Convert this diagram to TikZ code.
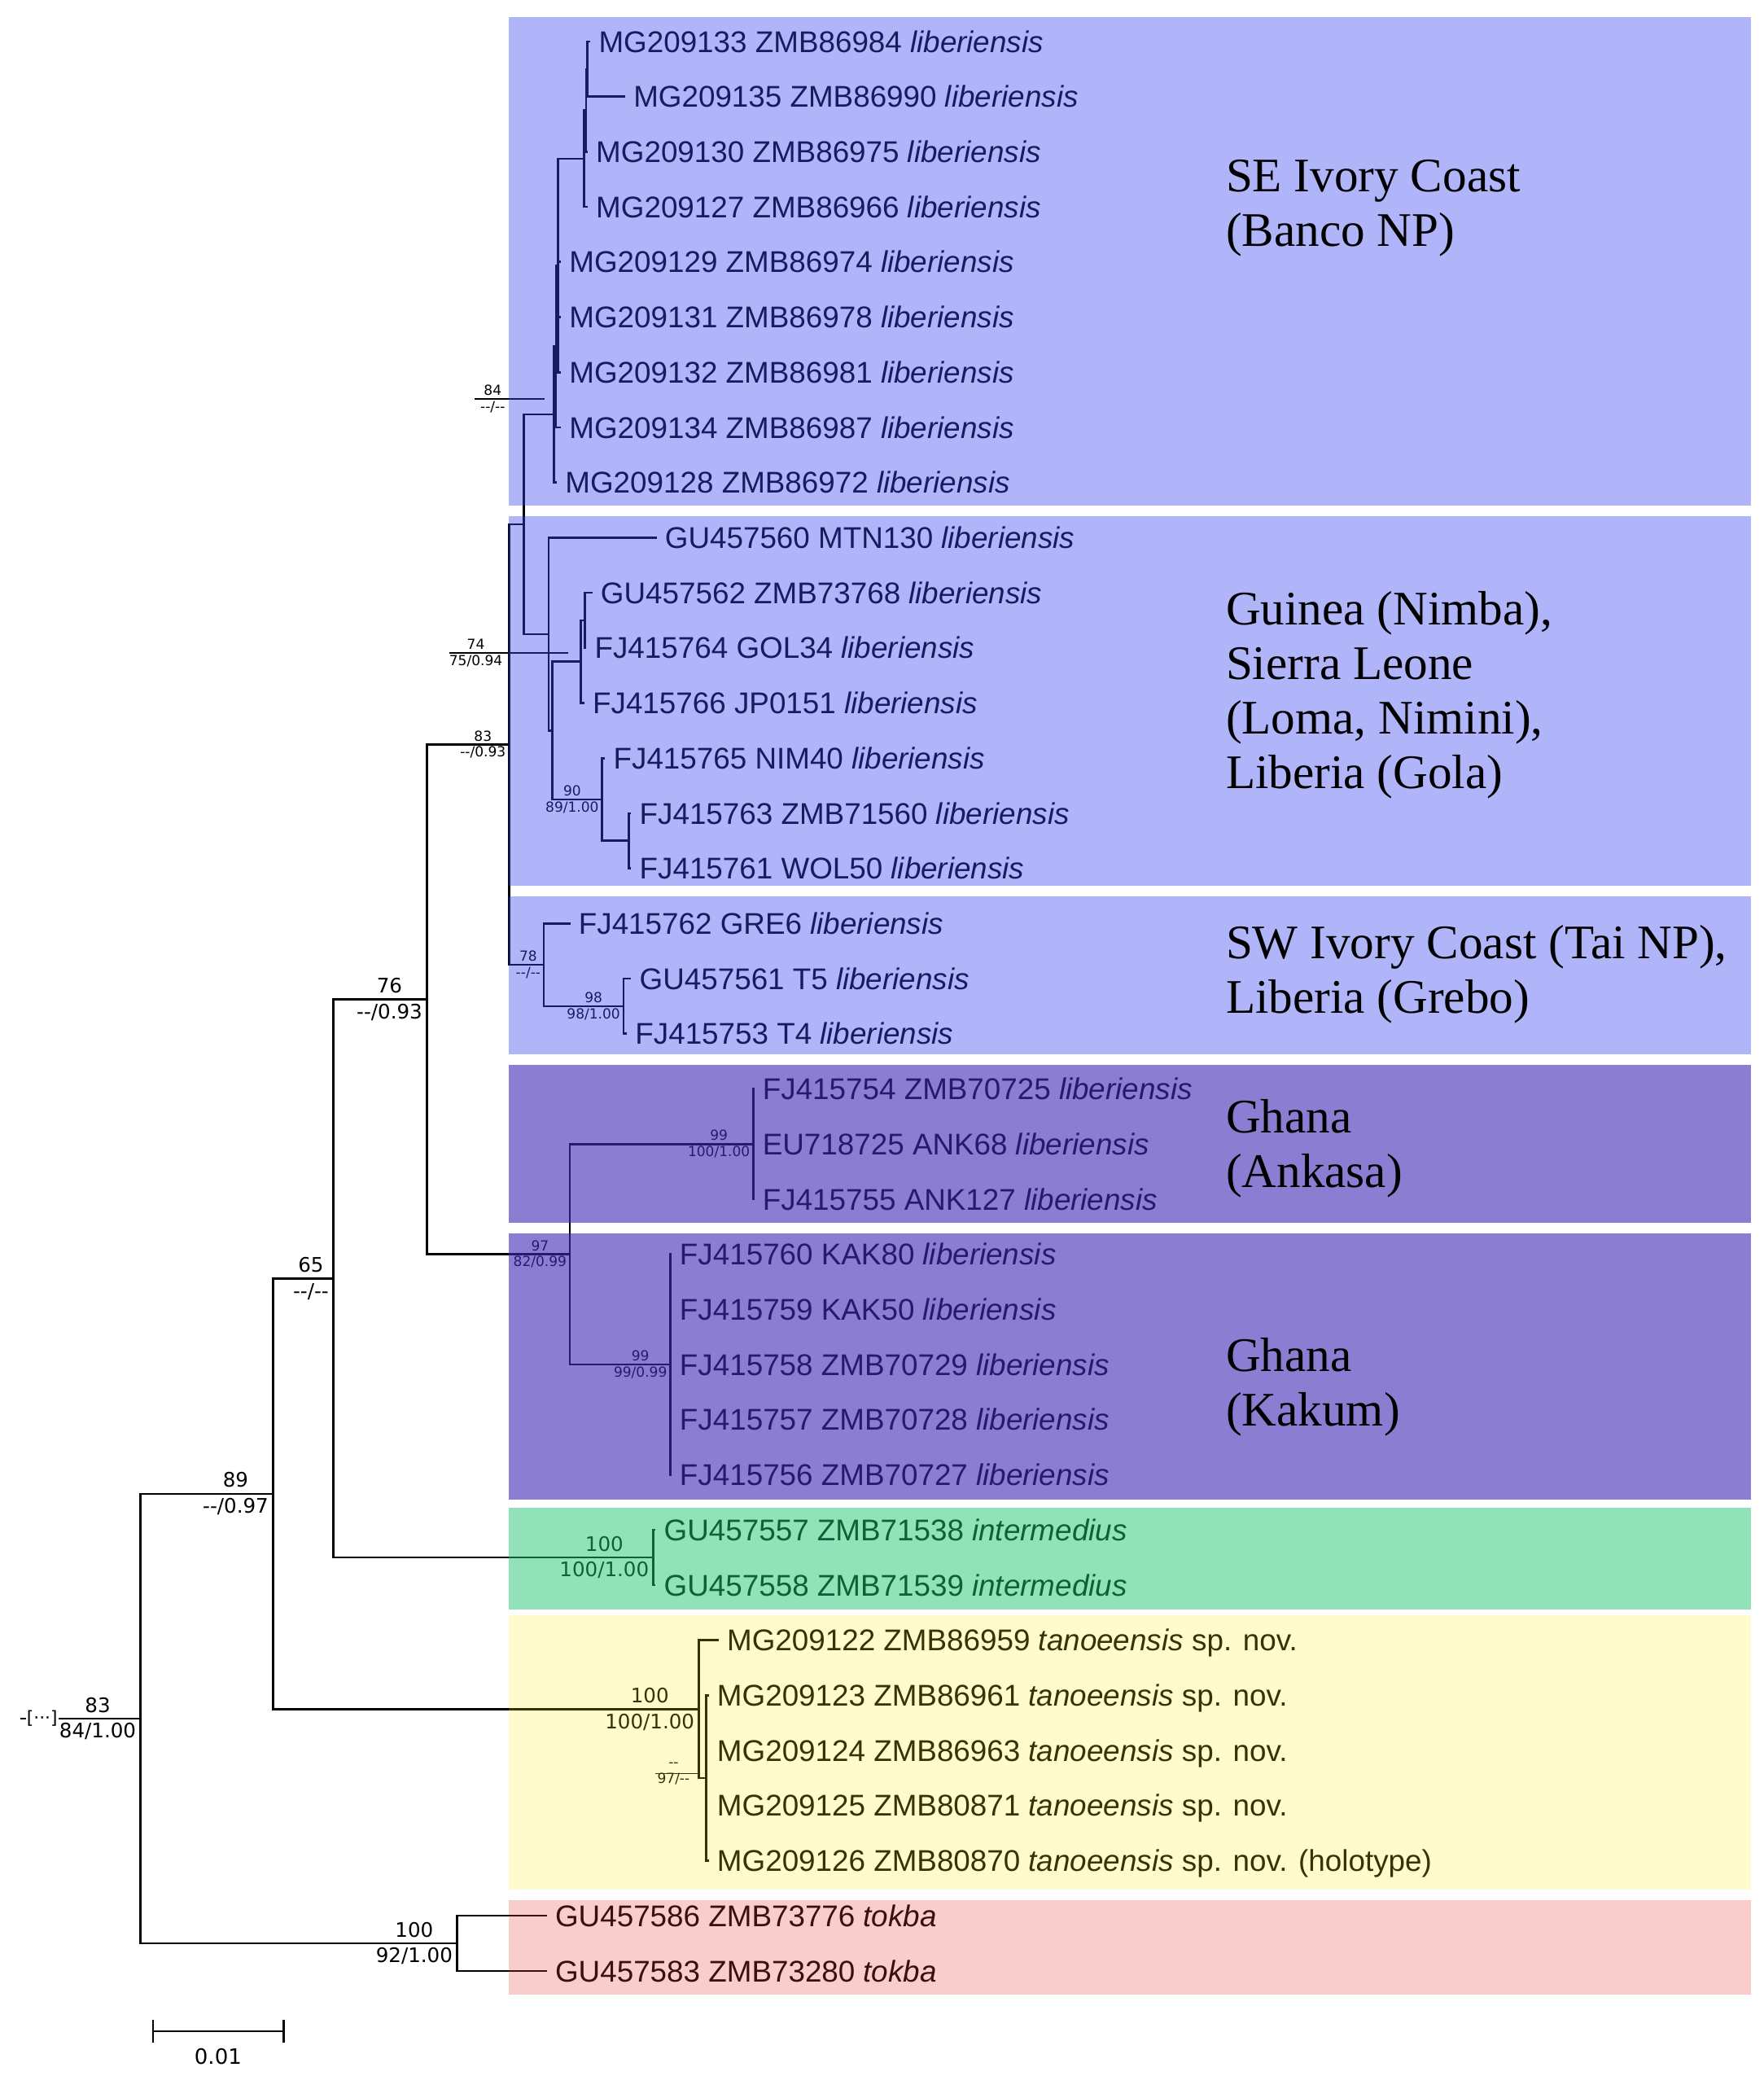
\documentclass[tikz,border=0pt]{standalone}
\usepackage{fontspec}
\newfontfamily\leaffont{Liberation Sans}
\newfontfamily\areafont{Liberation Serif}
\newfontfamily\supfont{DejaVu Sans}
\definecolor{tintSE}{RGB}{58,68,238}
\definecolor{tintGH}{RGB}{66,42,181}
\definecolor{tintIN}{RGB}{31,196,112}
\definecolor{tintTA}{RGB}{255,237,23}
\definecolor{tintTO}{RGB}{235,59,59}
\newcommand{\nobs}{-{}-}
\tikzset{
  br/.style={line width=0.9pt,line cap=rect},
  lead/.style={line width=0.55pt},
  leaf/.style={anchor=west,inner xsep=3.8pt,inner ysep=0pt,text height=9.1pt,text depth=0pt,
    font=\leaffont\fontsize{12.75}{15}\selectfont},
  bsBig/.style={anchor=east,align=center,inner xsep=1.7pt,inner ysep=0pt,
    font=\supfont\fontsize{8.5}{11}\selectfont},
  bsSmall/.style={anchor=east,align=center,inner xsep=1.2pt,inner ysep=0pt,
    font=\supfont\fontsize{5.9}{6.8}\selectfont},
  area/.style={anchor=west,align=left,inner sep=0pt,font=\areafont\fontsize{20.5}{23.3}\selectfont},
  boxSE/.style={fill=tintSE,fill opacity=0.4},
  boxGH/.style={fill=tintGH,fill opacity=0.61},
  boxIN/.style={fill=tintIN,fill opacity=0.49},
  boxTA/.style={fill=tintTA,fill opacity=0.215},
  boxTO/.style={fill=tintTO,fill opacity=0.255},
}

\begin{document}
\begin{tikzpicture}[x=0.02cm,y=-0.02cm]
  \useasboundingbox (0,0) rectangle (1318,1568);

  % internal nodes
  \coordinate (stub) at (16,1284.4);
  \coordinate (nRoot) at (105,1284.4);
  \coordinate (n89) at (204,1116.4);
  \coordinate (n65) at (249,955.45);
  \coordinate (n76) at (319,746.9);
  \coordinate (n83) at (380.5,556.45);
  \coordinate (nX) at (391.5,391.8);
  \coordinate (nSE) at (414,309.75);
  \coordinate (nE) at (415.5,258.9);
  \coordinate (nD) at (417,198.4);
  \coordinate (n3) at (436.7,118.55);
  \coordinate (n2) at (438.1,82.5);
  \coordinate (n1) at (439.1,51.6);
  \coordinate (nG) at (410,473.9);
  \coordinate (nG2) at (413,546);
  \coordinate (nC74) at (434,494.5);
  \coordinate (nSub) at (437,463.6);
  \coordinate (nC90) at (450,597.5);
  \coordinate (nCp) at (470,628.4);
  \coordinate (n78) at (406.5,721.1);
  \coordinate (n98) at (466,752);
  \coordinate (n97) at (426,937.4);
  \coordinate (nAnk) at (563,855);
  \coordinate (nKak) at (501,1019.8);
  \coordinate (nInt) at (488.4,1164);
  \coordinate (nT) at (522.4,1277.3);
  \coordinate (nT2) at (528,1328.8);
  \coordinate (nTok) at (341.6,1452.4);

  % tips
  \node[leaf] (l01) at (440.5,31) {MG209133 ZMB86984 \textit{liberiensis}};
  \node[leaf] (l02) at (466.5,72.2) {MG209135 ZMB86990 \textit{liberiensis}};
  \node[leaf] (l03) at (438.5,113.4) {MG209130 ZMB86975 \textit{liberiensis}};
  \node[leaf] (l04) at (438.5,154.6) {MG209127 ZMB86966 \textit{liberiensis}};
  \node[leaf] (l05) at (418.5,195.8) {MG209129 ZMB86974 \textit{liberiensis}};
  \node[leaf] (l06) at (418.5,237) {MG209131 ZMB86978 \textit{liberiensis}};
  \node[leaf] (l07) at (418.5,278.2) {MG209132 ZMB86981 \textit{liberiensis}};
  \node[leaf] (l08) at (418.5,319.4) {MG209134 ZMB86987 \textit{liberiensis}};
  \node[leaf] (l09) at (415.5,360.6) {MG209128 ZMB86972 \textit{liberiensis}};
  \node[leaf] (l10) at (490,401.8) {GU457560 MTN130 \textit{liberiensis}};
  \node[leaf] (l11) at (442,443) {GU457562 ZMB73768 \textit{liberiensis}};
  \node[leaf] (l12) at (437.5,484.2) {FJ415764 GOL34 \textit{liberiensis}};
  \node[leaf] (l13) at (436,525.4) {FJ415766 JP0151 \textit{liberiensis}};
  \node[leaf] (l14) at (451.5,566.6) {FJ415765 NIM40 \textit{liberiensis}};
  \node[leaf] (l15) at (471,607.8) {FJ415763 ZMB71560 \textit{liberiensis}};
  \node[leaf] (l16) at (471,649) {FJ415761 WOL50 \textit{liberiensis}};
  \node[leaf] (l17) at (425.5,690.2) {FJ415762 GRE6 \textit{liberiensis}};
  \node[leaf] (l18) at (471,731.4) {GU457561 T5 \textit{liberiensis}};
  \node[leaf] (l19) at (467.8,772.6) {FJ415753 T4 \textit{liberiensis}};
  \node[leaf] (l20) at (563,813.8) {FJ415754 ZMB70725 \textit{liberiensis}};
  \node[leaf] (l21) at (563,855) {EU718725 ANK68 \textit{liberiensis}};
  \node[leaf] (l22) at (563,896.2) {FJ415755 ANK127 \textit{liberiensis}};
  \node[leaf] (l23) at (501,937.4) {FJ415760 KAK80 \textit{liberiensis}};
  \node[leaf] (l24) at (501,978.6) {FJ415759 KAK50 \textit{liberiensis}};
  \node[leaf] (l25) at (501,1019.8) {FJ415758 ZMB70729 \textit{liberiensis}};
  \node[leaf] (l26) at (501,1061) {FJ415757 ZMB70728 \textit{liberiensis}};
  \node[leaf] (l27) at (501,1102.2) {FJ415756 ZMB70727 \textit{liberiensis}};
  \node[leaf] (l28) at (489.3,1143.4) {GU457557 ZMB71538 \textit{intermedius}};
  \node[leaf] (l29) at (489.3,1184.6) {GU457558 ZMB71539 \textit{intermedius}};
  \node[leaf] (l30) at (536.4,1225.8) {MG209122 ZMB86959 \textit{tanoeensis} sp. nov.};
  \node[leaf] (l31) at (529,1267) {MG209123 ZMB86961 \textit{tanoeensis} sp. nov.};
  \node[leaf] (l32) at (529,1308.2) {MG209124 ZMB86963 \textit{tanoeensis} sp. nov.};
  \node[leaf] (l33) at (529,1349.4) {MG209125 ZMB80871 \textit{tanoeensis} sp. nov.};
  \node[leaf] (l34) at (529,1390.6) {MG209126 ZMB80870 \textit{tanoeensis} sp. nov. (holotype)};
  \node[leaf] (l35) at (408,1431.8) {GU457586 ZMB73776 \textit{tokba}};
  \node[leaf] (l36) at (408,1473) {GU457583 ZMB73280 \textit{tokba}};

  % branches
  \draw[br] (stub) -- (nRoot);
  \draw[br] (nRoot) |- (n89) (nRoot) |- (nTok);
  \draw[br] (n89) |- (n65) (n89) |- (nT);
  \draw[br] (n65) |- (n76) (n65) |- (nInt);
  \draw[br] (n76) |- (n83) (n76) |- (n97);
  \draw[br] (n83) |- (nX) (n83) |- (n78);
  \draw[br] (nX) |- (nSE) (nX) |- (nG);
  \draw[br] (nSE) |- (nE) (nSE) |- (l09.west);
  \draw[br] (nE) |- (nD) (nE) |- (l08.west);
  \draw[br] (nD) |- (n3) (nD) |- (l05.west) (nD) |- (l06.west) (nD) |- (l07.west);
  \draw[br] (n3) |- (n2) (n3) |- (l04.west);
  \draw[br] (n2) |- (n1) (n2) |- (l03.west);
  \draw[br] (n1) |- (l01.west) (n1) |- (l02.west);
  \draw[br] (nG) |- (l10.west) (nG) |- (nG2);
  \draw[br] (nG2) |- (nC74) (nG2) |- (nC90);
  \draw[br] (nC74) |- (nSub) (nC74) |- (l13.west);
  \draw[br] (nSub) |- (l11.west) (nSub) |- (l12.west);
  \draw[br] (nC90) |- (l14.west) (nC90) |- (nCp);
  \draw[br] (nCp) |- (l15.west) (nCp) |- (l16.west);
  \draw[br] (n78) |- (l17.west) (n78) |- (n98);
  \draw[br] (n98) |- (l18.west) (n98) |- (l19.west);
  \draw[br] (n97) |- (nAnk) (n97) |- (nKak);
  \draw[br] (nAnk) |- (l20.west) (nAnk) |- (l22.west);
  \draw[br] (nKak) |- (l23.west) (nKak) |- (l27.west);
  \draw[br] (nInt) |- (l28.west) (nInt) |- (l29.west);
  \draw[br] (nT) |- (l30.west) (nT) |- (nT2);
  \draw[br] (nT2) |- (l31.west) (nT2) |- (l34.west);
  \draw[br] (nTok) |- (l35.west) (nTok) |- (l36.west);
  \node[fill=white,inner sep=0.5pt,font=\supfont\fontsize{7.5}{9}\selectfont] (cut) at (31.5,1284.4) {[···]};

  % support values
  \node[bsBig] (sRoot) at (nRoot) {83\\84/1.00};
  \node[bsBig] (s89) at (n89) {89\\\nobs/0.97};
  \node[bsBig] (s65) at (n65) {65\\\nobs/\nobs};
  \node[bsBig] (s76) at (n76) {76\\\nobs/0.93};
  \node[bsSmall] (s83) at (n83) {83\\\nobs/0.93};
  \node[bsSmall] (s90) at (nC90) {90\\89/1.00};
  \node[bsSmall] (s78) at (n78) {78\\\nobs/\nobs};
  \node[bsSmall] (s98) at (n98) {98\\98/1.00};
  \node[bsSmall] (s97) at (n97) {97\\82/0.99};
  \node[bsSmall] (s99a) at (nAnk) {99\\100/1.00};
  \node[bsSmall] (s99k) at (nKak) {99\\99/0.99};
  \node[bsBig] (sInt) at (nInt) {100\\100/1.00};
  \node[bsBig] (sT) at (nT) {100\\100/1.00};
  \node[bsBig] (sTok) at (nTok) {100\\92/1.00};

  % leader marks
  \coordinate (k84a) at (355,298);
  \coordinate (k84b) at (407,298);
  \draw[lead] (k84a) -- (k84b);
  \node[bsSmall] (s84) at (380,298) {84\\\nobs/\nobs};
  \coordinate (k74a) at (336,488);
  \coordinate (k74b) at (425,488);
  \draw[lead] (k74a) -- (k74b);
  \node[bsSmall] (s74) at (378,488) {74\\75/0.94};
  \coordinate (kTa) at (490,1325.5);
  \coordinate (kTb) at (522.4,1325.5);
  \draw[lead] (kTa) -- (kTb);
  \node[bsSmall] (sT2) at (518,1325.5) {\nobs\\97/\nobs};

  % scale bar
  \coordinate (sbL) at (114.5,1518);
  \coordinate (sbR) at (212,1518);
  \draw[br] (sbL) -- (sbR);
  \draw[br] (sbL) ++(0,-7.7) -- ++(0,15.4);
  \draw[br] (sbR) ++(0,-7.7) -- ++(0,15.4);
  \node[font=\supfont\fontsize{9}{11}\selectfont] (sbT) at (163,1537) {0.01};

  % clade shading
  \fill[boxSE] (380,13) rectangle (1309,378);
  \fill[boxSE] (380,386) rectangle (1309,662);
  \fill[boxSE] (380,670) rectangle (1309,788);
  \fill[boxGH] (380,796) rectangle (1309,914);
  \fill[boxGH] (380,922) rectangle (1309,1121);
  \fill[boxIN] (380,1127) rectangle (1309,1203);
  \fill[boxTA] (380,1207) rectangle (1309,1412);
  \fill[boxTO] (380,1420) rectangle (1309,1491);

  % regions
  \node[area] (aSE) at (916,155.5) {SE Ivory Coast\\(Banco NP)};
  \node[area] (aGN) at (916,519.5) {Guinea (Nimba),\\Sierra Leone\\(Loma, Nimini),\\Liberia (Gola)};
  \node[area] (aSW) at (916,728) {SW Ivory Coast (Tai NP),\\Liberia (Grebo)};
  \node[area] (aAN) at (916,858.5) {Ghana\\(Ankasa)};
  \node[area] (aKA) at (916,1036.5) {Ghana\\(Kakum)};
\end{tikzpicture}
\end{document}
